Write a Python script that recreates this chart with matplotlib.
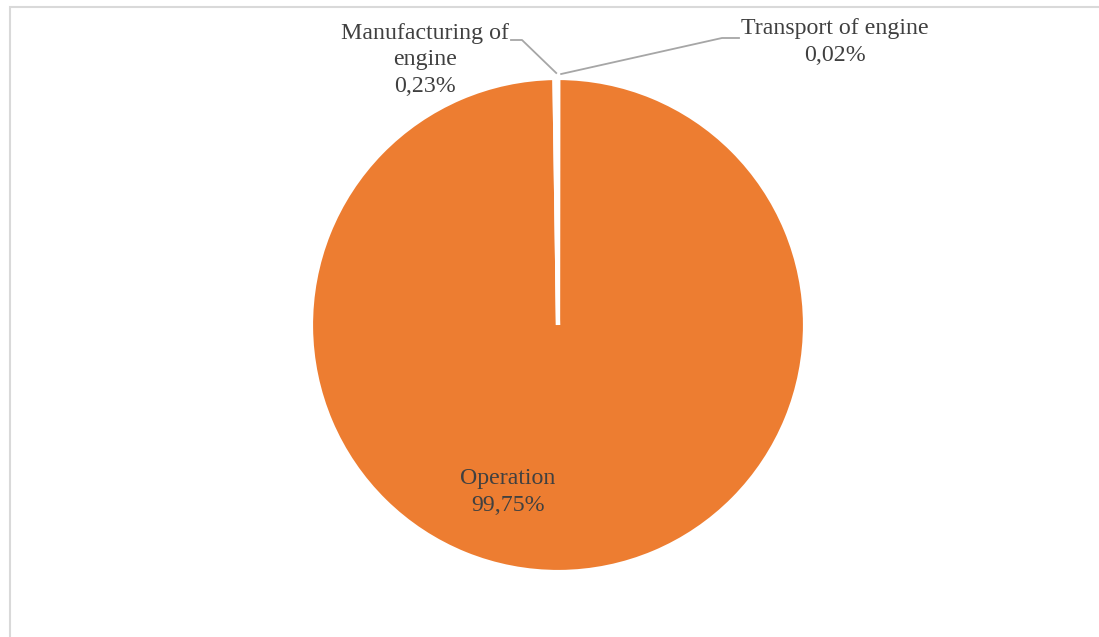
import numpy as np
import matplotlib.pyplot as plt
from matplotlib.patches import Rectangle

# life-cycle share of the engine (percent)
stages = ['Transport of engine', 'Operation', 'Manufacturing of\nengine']
shares = [0.02, 99.75, 0.23]
share_labels = ['0,02%', '99,75%', '0,23%']
colors = ['#A5A5A5', '#ED7D31', '#4472C4']

W, H = 1099, 637
fig = plt.figure(figsize=(W / 100, H / 100), dpi=100)
ax = fig.add_axes([0, 0, 1, 1])

# chart frame, clipped by the figure on the right and bottom
ax.add_patch(Rectangle((9.5, -20), W + 20, H - 6.5 + 20, fill=False,
                       edgecolor='#D9D9D9', linewidth=1.5))

cx, cy, r = 558, H - 325, 247
wedges, _ = ax.pie(shares, colors=colors, startangle=90, counterclock=False,
                   center=(cx, cy), radius=r, frame=True,
                   wedgeprops=dict(edgecolor='white', linewidth=3))
ax.set_xlim(0, W)
ax.set_ylim(0, H)
ax.set_aspect('equal')
ax.axis('off')

font = dict(family=['Liberation Serif', 'DejaVu Serif'], fontsize=17.2,
            color='#404040', ha='center', va='center', linespacing=1.35)
line = dict(color='#A6A6A6', linewidth=1.3)

# small slices: labels outside with leader lines to the rim
def rim_point(w):
    a = np.deg2rad((w.theta1 + w.theta2) / 2)
    return cx + r * np.cos(a), cy + r * np.sin(a)

tx, ty = rim_point(wedges[0])
ax.plot([tx + 3, 722, 739], [ty + 4, H - 38, H - 38], **line)
ax.text(835, H - 42, f'{stages[0]}\n{share_labels[0]}', **font)

mx, my = rim_point(wedges[2])
ax.plot([mx, 522, 511], [my + 5, H - 40, H - 40], **line)
ax.text(425, H - 60, f'{stages[2]}\n{share_labels[2]}', **font)

ax.text(508, H - 492, f'{stages[1]}\n{share_labels[1]}', **font)

fig.savefig('out.png', dpi=100)
